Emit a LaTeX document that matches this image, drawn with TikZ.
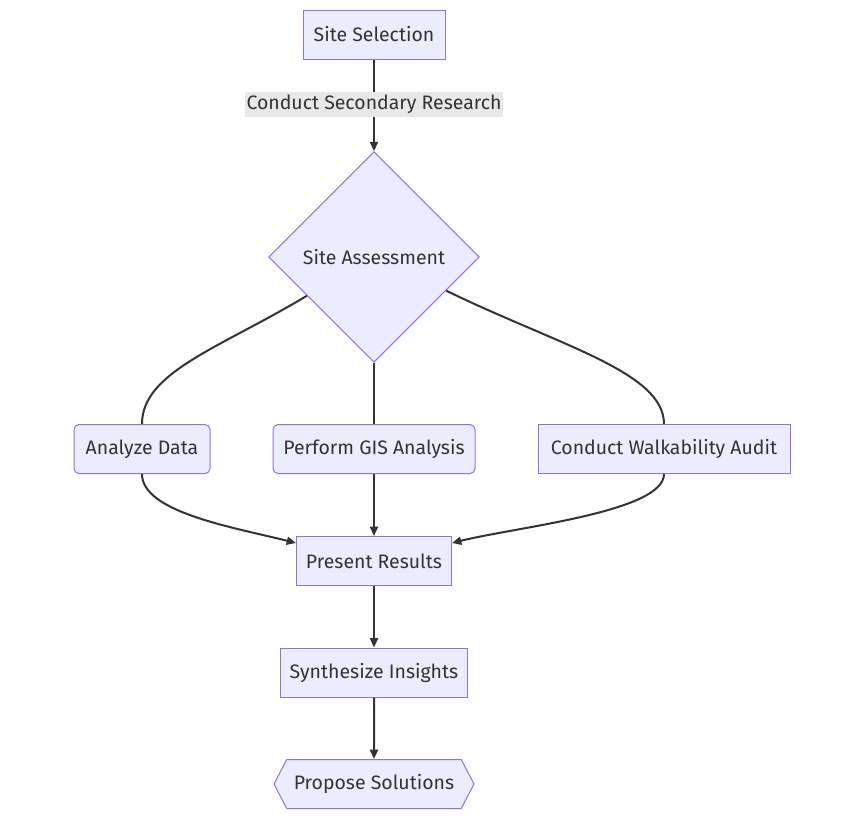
\documentclass[tikz,border=0pt]{standalone}
\usepackage{fontspec}
\setmainfont{Fira Sans}
\usepackage{tikz}
\usetikzlibrary{arrows.meta,shapes.geometric,shapes.symbols}
\usetikzlibrary{positioning}
\definecolor{boxfill}{HTML}{ECECFF}
\definecolor{boxline}{HTML}{9370DB}
\definecolor{ink}{HTML}{333333}
\definecolor{lblfill}{HTML}{E8E8E8}

\begin{document}
\begin{tikzpicture}[x=0.75pt,y=-0.75pt,
  box/.style={rectangle,draw=boxline,fill=boxfill,line width=0.75pt,text=ink,minimum height=36.75pt,inner sep=0pt,font=\fontsize{14.6}{16}\selectfont},
  rbox/.style={box,rounded corners=3.75pt},
  link/.style={draw=ink,line width=1.5pt},
  flow/.style={link,-{Triangle[length=7pt,width=6pt]}},
  elabel/.style={fill=lblfill,text=ink,inner xsep=1pt,inner ysep=2.5pt,font=\fontsize{14.6}{16}\selectfont}]
\useasboundingbox (0,0) rectangle (865,819);
\node[box,minimum width=106.5pt](ss) at (374,34.5){Site Selection};
\node[diamond,draw=boxline,fill=boxfill,line width=0.75pt,text=ink,minimum size=158pt,inner sep=0pt,font=\fontsize{14.6}{16}\selectfont](dia) at (374,257){Site Assessment};
\node[rbox,minimum width=102pt](ad) at (142,449){Analyze Data};
\node[rbox,minimum width=151.5pt](gis) at (374,449){Perform GIS Analysis};
\node[box,minimum width=189pt](wa) at (664,449){Conduct Walkability Audit};
\node[box,minimum width=116.25pt](pr) at (374,561){Present Results};
\node[box,minimum width=140.25pt](si) at (374,672.5){Synthesize Insights};
\node[box,signal,signal to=east and west,signal pointer angle=125,minimum width=150pt](ps) at (374,784){Propose Solutions};
\draw[flow] (ss) -- node[elabel,pos=0.49]{Conduct Secondary Research} (dia);
\draw[link] (dia.210) .. controls (220,348) and (142,372) .. (ad.north);
\draw[link] (dia.south) -- (gis.north);
\draw[link] (dia.-25) .. controls (560,346) and (664,372) .. (wa.north);
\draw[flow] (ad.south) .. controls (142,512) and (232,527) .. (pr.167);
\draw[flow] (gis) -- (pr);
\draw[flow] (wa.south) .. controls (664,512) and (516,527) .. (pr.13);
\draw[flow] (pr) -- (si);
\draw[flow] (si) -- (ps);
\end{tikzpicture}
\end{document}
